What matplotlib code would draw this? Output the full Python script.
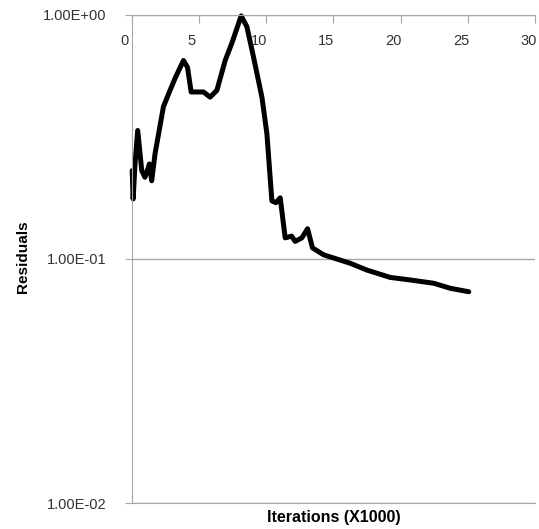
import matplotlib
matplotlib.use('Agg')
import matplotlib.pyplot as plt
from matplotlib.transforms import ScaledTranslation

# residual history (iterations in thousands)
iters = [0.05, 0.12, 0.26, 0.46, 0.76, 1.0, 1.33, 1.5, 1.75, 2.37, 2.86, 3.24,
         3.86, 4.16, 4.43, 5.35, 5.84, 6.34, 6.96, 7.45, 8.15, 8.57, 9.07, 9.69,
         10.06, 10.43, 10.73, 11.05, 11.42, 11.9, 12.16, 12.66, 13.08, 13.45,
         14.27, 16.25, 17.5, 19.23, 20.72, 22.46, 23.7, 25.06]
residuals = [0.23, 0.176, 0.245, 0.336, 0.23, 0.216, 0.245, 0.209, 0.27, 0.42,
             0.49, 0.55, 0.65, 0.61, 0.483, 0.483, 0.46, 0.49, 0.65, 0.764, 0.99,
             0.895, 0.67, 0.46, 0.326, 0.173, 0.17, 0.178, 0.122, 0.124, 0.118,
             0.122, 0.133, 0.111, 0.104, 0.096, 0.090, 0.084, 0.082, 0.0795,
             0.0758, 0.0734]

x_ticks = [0, 5, 10, 15, 20, 25, 30]
y_ticks = [0.01, 0.1, 1.0]
y_labels = ['1.00E-02', '1.00E-01', '1.00E+00']

plt.rcParams['font.family'] = ['Liberation Sans', 'DejaVu Sans']

fig = plt.figure(figsize=(5.39, 5.29), dpi=100)
ax = fig.add_axes([0.244, 0.049, 0.749, 0.923])

ax.plot(iters, residuals, color='black', lw=3.6, solid_joinstyle='round',
        solid_capstyle='round', clip_on=False)

ax.set_yscale('log')
ax.set_ylim(0.01, 1.0)
ax.set_xlim(0, 30)
ax.set_yticks(y_ticks)
ax.set_yticklabels(y_labels)
ax.minorticks_off()
ax.set_xticks(x_ticks)

grey = '#a6a6a6'
ax.yaxis.grid(True, color=grey, lw=1)
ax.spines['right'].set_visible(False)
for s in ['top', 'bottom', 'left']:
    ax.spines[s].set_color(grey)

ax.xaxis.tick_top()
ax.tick_params(axis='x', direction='in', length=6, color=grey, pad=-24,
               labelsize=10.5, labelcolor='#333333')
ax.tick_params(axis='y', direction='out', length=5, color=grey, pad=13,
               labelsize=10.5, labelcolor='#333333')

# excel puts the top labels a little left of their ticks
shift = ScaledTranslation(-7 / 100, 0, fig.dpi_scale_trans)
for lbl in ax.get_xticklabels():
    lbl.set_transform(lbl.get_transform() + shift)

fig.text(0.042, 0.515, 'Residuals', rotation=90, fontsize=11, weight='bold',
         ha='center', va='center')
fig.text(0.62, 0.021, 'Iterations (X1000)', fontsize=11.5, weight='bold',
         ha='center', va='center')

plt.savefig('out.png', dpi=100)
